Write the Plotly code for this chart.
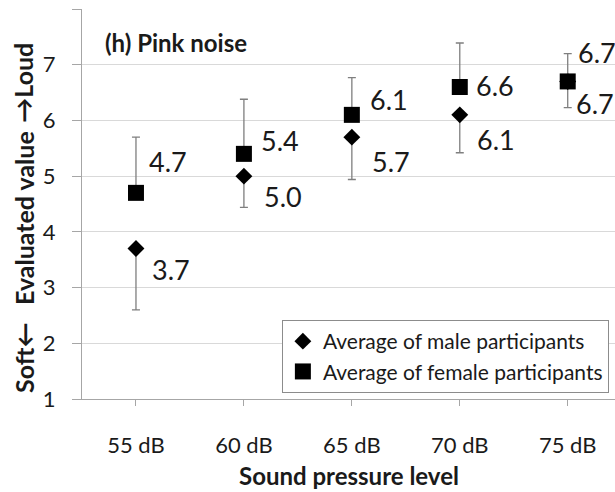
import plotly.graph_objects as go

categories = ["55 dB", "60 dB", "65 dB", "70 dB", "75 dB"]
male_avg = [3.7, 5.0, 5.7, 6.1, 6.7]
male_err_minus = [1.1, 0.56, 0.76, 0.68, 0.47]
female_avg = [4.7, 5.4, 6.1, 6.6, 6.7]
female_err_plus = [1.0, 0.98, 0.67, 0.79, 0.5]
y_ticks = [1, 2, 3, 4, 5, 6, 7, 8]
y_ticktext = ["1", "2", "3", "4", "5", "6", "7", ""]

# label offsets in pixels (style only)
female_label_dx = [11, 15, 16, 14, 8]
female_label_dy = [31, 13, 15, 2, 29]
male_label_dx = [14, 18, 18, 15, 6]
male_label_dy = [-21, -20, -24, -25, -22]

FONT = "Lato"
xs = list(range(len(categories)))
err_color = "#7f7f7f"
x_range = [-0.5, 4.438]

fig = go.Figure()
fig.add_trace(go.Scatter(
    x=xs, y=male_avg, mode="markers", name="Average of male participants",
    marker=dict(symbol="diamond", size=13, color="black"),
    error_y=dict(type="data", symmetric=False, array=[0] * len(xs),
                 arrayminus=male_err_minus, color=err_color, thickness=1.3, width=4),
))
fig.add_trace(go.Scatter(
    x=xs, y=female_avg, mode="markers", name="Average of female participants",
    marker=dict(symbol="square", size=16, color="black"),
    error_y=dict(type="data", symmetric=False, array=female_err_plus,
                 arrayminus=[0] * len(xs), color=err_color, thickness=1.3, width=4),
))

annotations = []
for i, x in enumerate(xs):
    annotations.append(dict(x=x, y=female_avg[i], xref="x", yref="y",
                            text=f"{female_avg[i]:.1f}", showarrow=False,
                            xanchor="left", yanchor="middle",
                            xshift=female_label_dx[i], yshift=female_label_dy[i],
                            font=dict(family=FONT, size=27, color="#1a1a1a")))
    annotations.append(dict(x=x, y=male_avg[i], xref="x", yref="y",
                            text=f"{male_avg[i]:.1f}", showarrow=False,
                            xanchor="left", yanchor="middle",
                            xshift=male_label_dx[i], yshift=male_label_dy[i],
                            font=dict(family=FONT, size=27, color="#1a1a1a")))

annotations += [
    dict(x=0.039, y=0.915, xref="paper", yref="paper", text="<b>(h) Pink noise</b>",
         showarrow=False, xanchor="left", yanchor="middle",
         font=dict(family=FONT, size=24, color="#1a1a1a")),
    dict(x=0.501, y=-0.2375, xref="paper", yref="paper", text="<b>Sound pressure level</b>",
         showarrow=False, xanchor="center", yanchor="bottom",
         font=dict(family=FONT, size=24, color="#1a1a1a")),
    dict(x=-0.11, y=0.812, xref="paper", yref="paper", text="<b>→Loud</b>",
         showarrow=False, textangle=-90, xanchor="center", yanchor="middle",
         font=dict(family=FONT, size=25, color="#1a1a1a")),
    dict(x=-0.11, y=0.465, xref="paper", yref="paper", text="<b>Evaluated value</b>",
         showarrow=False, textangle=-90, xanchor="center", yanchor="middle",
         font=dict(family=FONT, size=25, color="#1a1a1a")),
    dict(x=-0.11, y=0.106, xref="paper", yref="paper", text="<b>Soft←</b>",
         showarrow=False, textangle=-90, xanchor="center", yanchor="middle",
         font=dict(family=FONT, size=25, color="#1a1a1a")),
]

fig.update_layout(
    width=615, height=492,
    margin=dict(l=82, r=0, t=9, b=93),
    paper_bgcolor="white", plot_bgcolor="white",
    showlegend=True,
    legend=dict(x=0.375, y=0.2026, xanchor="left", yanchor="top",
                bgcolor="white", bordercolor="#8c8c8c", borderwidth=1,
                font=dict(family=FONT, size=21, color="#1a1a1a"),
                itemwidth=30, tracegroupgap=0),
    annotations=annotations,
    xaxis=dict(range=x_range, tickvals=xs, ticktext=categories,
               showgrid=False, zeroline=False, showline=True, linecolor="#a6a6a6",
               linewidth=1.3, ticks="outside", ticklen=6, tickcolor="#a6a6a6",
               ticklabelstandoff=20, automargin=False,
               tickfont=dict(family=FONT, size=22, color="#1a1a1a")),
    yaxis=dict(range=[1, 8], tickvals=y_ticks, ticktext=y_ticktext,
               showgrid=True, gridcolor="#d9d9d9", gridwidth=1.3, zeroline=False,
               showline=True, linecolor="#a6a6a6", linewidth=1.3,
               ticks="outside", ticklen=9, tickcolor="#a6a6a6",
               ticklabelstandoff=12, automargin=False,
               tickfont=dict(family=FONT, size=22, color="#1a1a1a")),
)

fig.write_html("out.html")
